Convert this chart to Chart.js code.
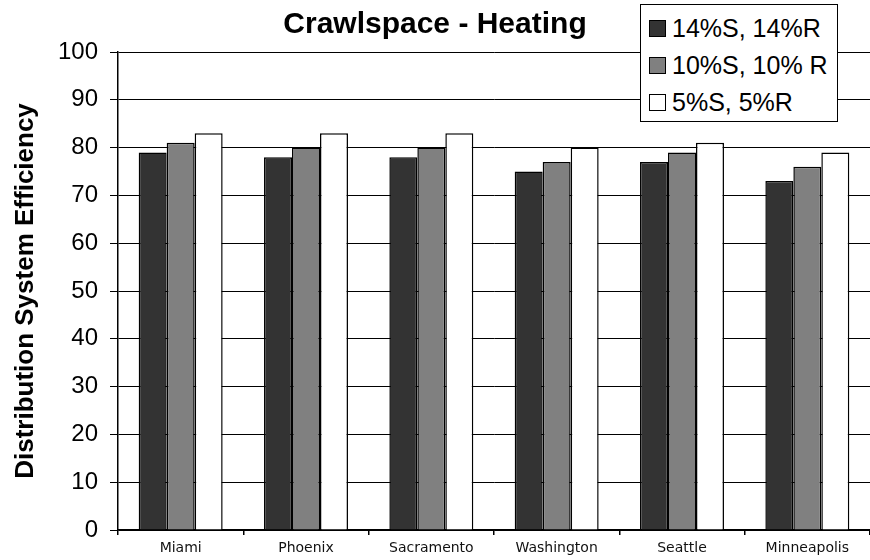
<!DOCTYPE html>
<html lang="en">
<head>
<meta charset="UTF-8">
<title>Crawlspace - Heating</title>
<script src="https://cdn.jsdelivr.net/npm/chart.js"></script>
<style>
  body { margin: 0; background: #fff; }
  #wrap { position: relative; width: 870px; height: 560px; }
  #legend {
    position: absolute; left: 640px; top: 4px; width: 196px; height: 116px;
    border: 1.5px solid #000; background: #fff;
    font-family: "Liberation Sans", Arial, sans-serif; font-size: 25px; color: #000;
  }
  .row { position: absolute; left: 8px; height: 30px; display: flex; align-items: center; white-space: nowrap; }
  .sw { width: 15px; height: 15px; border: 1px solid #000; margin-right: 6px; }
</style>
</head>
<body>
<div id="wrap">
  <canvas id="myChart" width="870" height="560"></canvas>
  <div id="legend"></div>
</div>
<script>
// data
const categories = ['Miami', 'Phoenix', 'Sacramento', 'Washington', 'Seattle', 'Minneapolis'];
const seriesNames = ['14%S, 14%R', '10%S, 10% R', '5%S, 5%R'];
const s14 = [79, 78, 78, 75, 77, 73];
const s10 = [81, 80, 80, 77, 79, 76];
const s5 = [83, 83, 83, 80, 81, 79];
const seriesColors = ['#333333', '#808080', '#ffffff'];

const seriesValues = [s14, s10, s5];

Chart.defaults.font.family = '"Liberation Sans", Arial, sans-serif';
Chart.defaults.color = '#000';

const datasets = seriesValues.map((vals, i) => ({
    label: seriesNames[i],
    data: vals,
    backgroundColor: seriesColors[i],
    borderColor: '#000',
    borderWidth: 1.5,
    categoryPercentage: 0.67,
    barPercentage: 1.0
}));

// legend sits over the plot, like the original
const legendEl = document.getElementById('legend');
seriesNames.forEach((name, i) => {
    const row = document.createElement('div');
    row.className = 'row';
    row.style.top = (8 + i * 37) + 'px';
    row.innerHTML = '<span class="sw" style="background:' + seriesColors[i] + '"></span><span></span>';
    row.lastChild.textContent = name;
    legendEl.appendChild(row);
});

const ctx = document.getElementById('myChart').getContext('2d');
new Chart(ctx, {
    type: 'bar',
    data: { labels: categories, datasets: datasets },
    options: {
        responsive: false,
        animation: false,
        layout: { padding: 0 },
        plugins: {
            legend: { display: false },
            tooltip: { enabled: false },
            title: {
                display: true,
                text: 'Crawlspace - Heating',
                font: { size: 30, weight: 'bold' },
                padding: { top: 7, bottom: 9 }
            }
        },
        scales: {
            x: {
                afterFit: scale => { scale.height = 30; },
                border: { color: '#000', width: 1.5 },
                grid: { drawOnChartArea: false, tickLength: 5, tickColor: '#000', lineWidth: 1.5 },
                ticks: { font: { family: '"DejaVu Sans"', size: 14 }, color: '#111', padding: 5, maxRotation: 0 }
            },
            y: {
                min: 0,
                max: 100,
                afterFit: scale => { scale.width = 118; },
                border: { color: '#000', width: 1.5 },
                grid: { color: '#000', tickLength: 8, tickColor: '#000' },
                ticks: { stepSize: 10, font: { size: 24 }, padding: 12 },
                title: {
                    display: true,
                    text: 'Distribution System Efficiency',
                    font: { size: 26, weight: 'bold' },
                    padding: { top: 10, bottom: 0 }
                }
            }
        }
    }
});
</script>
</body>
</html>
